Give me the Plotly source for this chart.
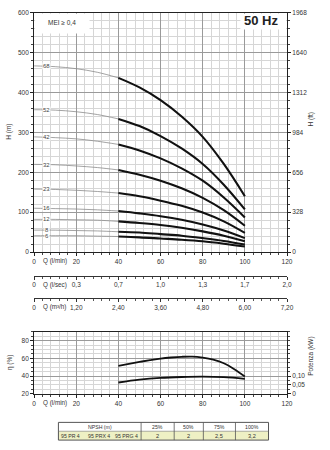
import plotly.graph_objects as go

# ---------------- data ----------------
Q = [0, 10, 20, 30, 40, 50, 60, 70, 80, 90, 100]
stages = ["68", "52", "42", "32", "23", "16", "12", "8", "6"]
H = {
    "68": [467, 465, 460, 451, 437, 413, 381, 340, 289, 221, 140],
    "52": [357, 356, 352, 345, 334, 316, 291, 260, 221, 169, 107],
    "42": [289, 287, 284, 278, 270, 255, 235, 210, 179, 137, 87],
    "32": [220, 219, 216, 212, 206, 194, 179, 160, 136, 105, 66],
    "23": [158, 157, 155, 152, 148, 140, 129, 116, 99, 77, 48],
    "16": [110, 109, 108, 106, 103, 97, 90, 81, 69, 54, 35],
    "12": [82, 82, 81, 80, 77, 73, 68, 61, 52, 41, 27],
    "8": [55, 55, 54, 53, 51, 49, 45, 41, 35, 28, 19],
    "6": [41, 41, 41, 40, 39, 37, 34, 31, 27, 21, 14],
}
Q_eff = [40, 45, 50, 55, 60, 65, 70, 75, 80, 85, 90, 95, 100]
eta = [51.5, 53.8, 56, 58, 59.8, 61, 61.8, 62, 60.8, 58.5, 54.5, 47.8, 39.5]
Q_pow = [40, 50, 60, 70, 80, 90, 100]
power = [0.064, 0.080, 0.090, 0.095, 0.097, 0.094, 0.085]

q_lmin_vals = [0, 20, 40, 60, 80, 100, 120]
q_lmin_text = ["0", "20", "40", "60", "80", "100", "120"]
q_lsec_text = ["0", "0,3", "0,7", "1,0", "1,3", "1,7", "2,0"]
q_m3h_text = ["0", "1,20", "2,40", "3,60", "4,80", "6,00", "7,20"]
ft_vals = [0, 328, 656, 984, 1312, 1640, 1968]
pow_vals = [0, 0.05, 0.10]
pow_text = ["0", "0,05", "0,10"]

npsh_header = ["NPSH (m)", "25%", "50%", "75%", "100%"]
npsh_models = ["95 PR 4", "95 PRX 4", "95 PRG 4"]
npsh_values = ["2", "2", "2,5", "3,2"]

# ---------------- layout helpers ----------------
W, Hgt = 330, 450
def px(x):
    return x / W
def py(y):
    return 1 - y / Hgt

FONT = "Liberation Sans"
TXT = "#333333"
MAJ = "#9a9a9a"
MIN = "#d6d6d6"
XD = [px(33), px(293)]

fig = go.Figure()

# main head curves
for s in stages:
    vals = H[s]
    fig.add_trace(go.Scatter(x=Q[:5], y=vals[:5], mode="lines", line=dict(color="#8c8c8c", width=0.8, shape="spline"),
                             xaxis="x", yaxis="y", showlegend=False, hoverinfo="skip"))
    fig.add_trace(go.Scatter(x=Q[4:], y=vals[4:], mode="lines", line=dict(color="#111111", width=2.1, shape="spline"),
                             xaxis="x", yaxis="y", showlegend=False, hoverinfo="skip"))

# dummy traces so all axes render
fig.add_trace(go.Scatter(x=[0], y=[0], mode="markers", marker=dict(opacity=0), xaxis="x", yaxis="y2", showlegend=False, hoverinfo="skip"))
fig.add_trace(go.Scatter(x=[0], y=[0], mode="markers", marker=dict(opacity=0), xaxis="x2", yaxis="y3", showlegend=False, hoverinfo="skip"))
fig.add_trace(go.Scatter(x=[0], y=[0], mode="markers", marker=dict(opacity=0), xaxis="x3", yaxis="y4", showlegend=False, hoverinfo="skip"))

# efficiency and power
fig.add_trace(go.Scatter(x=Q_eff, y=eta, mode="lines", line=dict(color="#111111", width=1.8, shape="spline"),
                         xaxis="x4", yaxis="y5", showlegend=False, hoverinfo="skip"))
fig.add_trace(go.Scatter(x=Q_pow, y=power, mode="lines", line=dict(color="#111111", width=1.8, shape="spline"),
                         xaxis="x4", yaxis="y6", showlegend=False, hoverinfo="skip"))

tickfont = dict(family=FONT, size=6.5, color=TXT)

def xgrid_axis(anchor):
    return dict(domain=XD, range=[0, 120], anchor=anchor, tickmode="array", tickvals=q_lmin_vals,
                ticktext=q_lmin_text, showline=True, linecolor="#222", linewidth=1, mirror=True,
                showgrid=True, gridcolor=MAJ, gridwidth=0.8, zeroline=False, ticks="outside", ticklen=3,
                tickcolor="#222", tickfont=tickfont,
                minor=dict(tickmode="linear", tick0=0, dtick=4, showgrid=True, gridcolor=MIN, gridwidth=0.6,
                           ticks="outside", ticklen=2, tickcolor="#444"))

def strip_axis(anchor, text):
    return dict(domain=XD, range=[0, 120], anchor=anchor, tickmode="array", tickvals=q_lmin_vals,
                ticktext=text, showline=True, linecolor="#333", linewidth=0.8, showgrid=False, zeroline=False,
                ticks="outside", ticklen=3, tickcolor="#333", tickfont=tickfont,
                minor=dict(tickmode="linear", tick0=0, dtick=4, ticks="outside", ticklen=2, tickcolor="#555"))

fig.update_layout(
    width=W, height=Hgt, margin=dict(l=0, r=0, t=0, b=0),
    paper_bgcolor="white", plot_bgcolor="white", showlegend=False,
    font=dict(family=FONT, size=6.5, color=TXT),
    xaxis=xgrid_axis("y"),
    yaxis=dict(domain=[py(252), py(9)], range=[0, 600], tickmode="linear", tick0=0, dtick=100,
               showline=True, linecolor="#222", linewidth=1, mirror=True, showgrid=True, gridcolor=MAJ,
               gridwidth=0.8, zeroline=False, ticks="outside", ticklen=3, tickcolor="#222", tickfont=tickfont,
               minor=dict(tickmode="linear", tick0=0, dtick=20, showgrid=True, gridcolor=MIN, gridwidth=0.6,
                          ticks="outside", ticklen=2, tickcolor="#444")),
    yaxis2=dict(overlaying="y", side="right", anchor="x", range=[0, 1968], tickmode="array", tickvals=ft_vals,
                ticktext=[str(v) for v in ft_vals], showgrid=False, zeroline=False, showline=True,
                linecolor="#222", linewidth=1, ticks="outside", ticklen=3, tickcolor="#222", tickfont=tickfont,
                minor=dict(tickmode="linear", tick0=0, dtick=65.6, ticks="outside", ticklen=2, tickcolor="#444")),
    xaxis2=strip_axis("y3", q_lsec_text),
    yaxis3=dict(domain=[py(276), py(270)], range=[0, 1], visible=False),
    xaxis3=strip_axis("y4", q_m3h_text),
    yaxis4=dict(domain=[py(299), py(293)], range=[0, 1], visible=False),
    xaxis4=xgrid_axis("y5"),
    yaxis5=dict(domain=[py(396), py(333)], range=[20, 90], tickmode="array", tickvals=[20, 40, 60, 80],
                showline=True, linecolor="#222", linewidth=1, mirror=True, showgrid=True, gridcolor=MAJ,
                gridwidth=0.8, zeroline=False, ticks="outside", ticklen=3, tickcolor="#222", tickfont=tickfont,
                minor=dict(tickmode="linear", tick0=20, dtick=5, showgrid=True, gridcolor=MIN, gridwidth=0.6,
                           ticks="outside", ticklen=2, tickcolor="#444")),
    yaxis6=dict(overlaying="y5", side="right", anchor="x4", range=[0, 0.35], tickmode="array", tickvals=pow_vals,
                ticktext=pow_text, showgrid=False, zeroline=False, showline=True, linecolor="#222", linewidth=1,
                ticks="outside", ticklen=3, tickcolor="#222", tickfont=tickfont,
                minor=dict(tickmode="linear", tick0=0, dtick=0.025, ticks="outside", ticklen=2, tickcolor="#444")),
)

shapes = []
ann = []

def note(text, x, y, size=6.5, angle=0, color=TXT, xanchor="center", **kw):
    ann.append(dict(text=text, x=px(x), y=py(y), xref="paper", yref="paper", showarrow=False,
                    xanchor=xanchor, yanchor="middle", textangle=angle, borderpad=0,
                    font=dict(family=FONT, size=size, color=color), **kw))

# white boxes for MEI and 50 Hz
shapes.append(dict(type="rect", xref="paper", yref="paper", x0=px(34), x1=px(90), y0=py(30), y1=py(10),
                   fillcolor="white", line=dict(width=0), layer="above"))
shapes.append(dict(type="rect", xref="paper", yref="paper", x0=px(245), x1=px(292), y0=py(26), y1=py(10),
                   fillcolor="white", line=dict(width=0), layer="above"))
note("MEI ≥ 0,4", 62, 19)
note("<b>50 Hz</b>", 266, 17, size=13, color="#222")

# stage labels
for s in stages:
    yv = H[s][0] + (H[s][1] - H[s][0]) * 0.6
    ann.append(dict(text=s, x=6, y=yv, xref="x", yref="y", showarrow=False, bgcolor="white", borderpad=0,
                    xanchor="center", yanchor="middle", font=dict(family=FONT, size=6, color="#444")))

# axis titles
note("H (m)", 7, 130, angle=-90)
note("H (ft)", 318, 117, angle=-90)
note("η (%)", 9, 364, angle=-90)
note("Potenza (kW)", 318, 358, angle=-90)
for ytxt, t in [(261, "Q (l/min)"), (285, "Q (l/sec)"), (308, "Q (m³/h)"), (405, "Q (l/min)")]:
    note(t, 54, ytxt, size=6.3)

# NPSH table
cols = [58, 143, 177, 207, 240, 274]
r0, r1, r2 = 425, 434, 443
shapes.append(dict(type="rect", xref="paper", yref="paper", x0=px(cols[0]), x1=px(cols[-1]), y0=py(r2), y1=py(r1),
                   fillcolor="#eef0c4", line=dict(width=0), layer="above"))
shapes.append(dict(type="rect", xref="paper", yref="paper", x0=px(cols[0]), x1=px(cols[-1]), y0=py(r2), y1=py(r0),
                   fillcolor="rgba(0,0,0,0)", line=dict(color="#555", width=1), layer="above"))
shapes.append(dict(type="line", xref="paper", yref="paper", x0=px(cols[0]), x1=px(cols[-1]), y0=py(r1), y1=py(r1),
                   line=dict(color="#777", width=0.6), layer="above"))
for c in cols[1:-1]:
    shapes.append(dict(type="line", xref="paper", yref="paper", x0=px(c), x1=px(c), y0=py(r2), y1=py(r0),
                       line=dict(color="#555", width=0.8), layer="above"))
for i in range(5):
    xc = (cols[i] + cols[i + 1]) / 2
    note(npsh_header[i], xc, (r0 + r1) / 2, size=5.2)
    if i > 0:
        note(npsh_values[i - 1], xc, (r1 + r2) / 2, size=5.6)
for xm, m in zip([60, 87, 115], npsh_models):
    note(m, xm, (r1 + r2) / 2, size=5.2, xanchor="left")

fig.update_layout(shapes=shapes, annotations=ann)
fig.write_html("out.html")
